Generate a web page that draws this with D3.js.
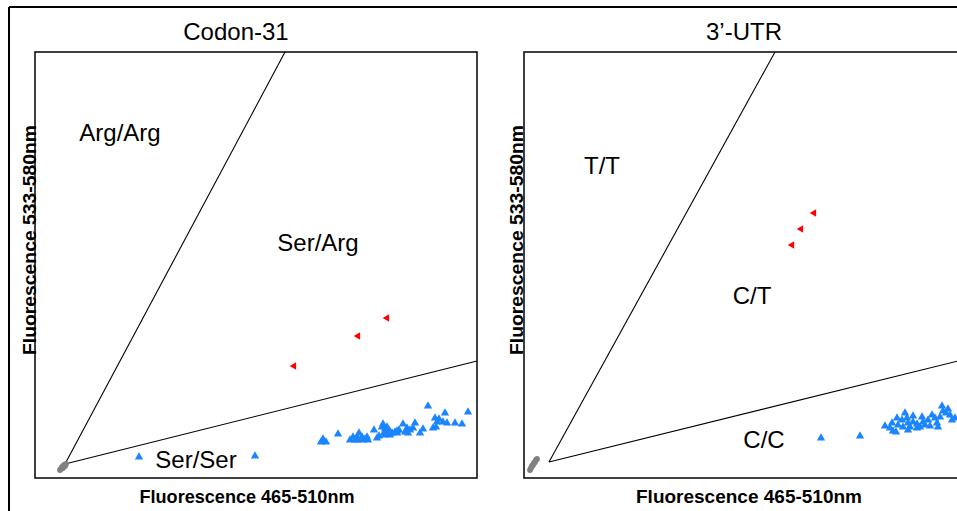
<!DOCTYPE html>
<html><head><meta charset="utf-8">
<script src="https://cdn.jsdelivr.net/npm/d3@7"></script>
<style>body{margin:0;background:#fff}svg{display:block}</style>
</head><body><svg id="c" width="957" height="511"></svg>
<script>
// Panel titles and axis titles
const panelTitles = ["Codon-31", "3\u2019-UTR"];
const xTitle = "Fluorescence 465-510nm";
const yTitle = "Fluorescence 533-580nm";
// Genotype region labels [label, x, y] per panel
const labelsCodon = [["Arg/Arg", 85, 345], ["Ser/Arg", 283, 235], ["Ser/Ser", 161, 18]];
const labelsUTR = [["T/T", 78, 312], ["C/T", 228, 182], ["C/C", 240, 38]];
// Cluster boundary lines (origin -> end) per panel
const linesCodon = [[[30, 14], [250, 426]], [[30, 14], [442, 117]]];
const linesUTR = [[[25, 16], [251, 426]], [[25, 16], [442, 119]]];
// Negative controls (gray)
const grayCodon = [[27,11],[29,13],[31,14],[26,9],[28,10],[30,12],[25,8]];
const grayUTR = [[7,10],[9,13],[11,16],[13,19],[8,12],[10,15],[12,18],[6,8]];
// Heterozygotes (red)
const redCodon = [[259,112],[323,142],[352,160]];
const redUTR = [[268,233],[277,249],[290,265]];
// Homozygotes (blue)
const blueCodon = [[104,21],[220,22],[393,72],[433,66],[410,65],[400,60],[404,59],[408,56],[402,56],[412,55],[420,55],[427,54],
 [398,50],[401,51],[388,49],[380,55],[378,50],[368,54],[372,50],[375,48],[364,48],[362,47],[373,45],[362,45],[348,54],[347,51],
 [350,49],[352,51],[354,48],[349,45],[355,43],[352,44],[357,45],[339,48],[344,42],[342,40],[332,41],[333,38],[330,39],[327,41],
 [324,45],[322,41],[320,38],[318,41],[315,38],[323,38],[328,38],[303,44],[288,39],[291,36],[286,36],[385,45],[370,46],[360,46],[350,43]];
const blueUTR = [[297,40],[336,42],[361,52],[366,50],[369,47],[372,46],[368,55],[374,53],[373,60],[378,58],[381,65],[383,60],[384,55],
 [386,51],[389,62],[389,56],[393,54],[396,51],[398,61],[399,56],[401,53],[404,58],[406,52],[408,63],[411,60],[413,55],[414,51],
 [416,61],[418,72],[419,67],[422,65],[424,69],[426,63],[428,58],[431,60],[379,51],[393,50],[384,48]];

const svg = d3.select("#c");
// outer frame
svg.append("line").attr("x1",9).attr("y1",7).attr("x2",957).attr("y2",7).attr("stroke","#000").attr("stroke-width",2);
svg.append("line").attr("x1",9).attr("y1",7).attr("x2",9).attr("y2",511).attr("stroke","#000").attr("stroke-width",2);

const panels = [
  {x0:35, title:panelTitles[0], labels:labelsCodon, lines:linesCodon, gray:grayCodon, red:redCodon, blue:blueCodon, ytx:29, xtLen:215, ytLen:230},
  {x0:524, title:panelTitles[1], labels:labelsUTR, lines:linesUTR, gray:grayUTR, red:redUTR, blue:blueUTR, ytx:516, xtLen:226, ytLen:230}
];

panels.forEach(p => {
  const x = d3.scaleLinear().domain([0,442]).range([p.x0, p.x0+442]);
  const y = d3.scaleLinear().domain([0,426]).range([478, 52]);
  const g = svg.append("g");
  g.append("rect").attr("x",x(0)).attr("y",y(426)).attr("width",x(442)-x(0)).attr("height",y(0)-y(426))
    .attr("fill","none").attr("stroke","#111").attr("stroke-width",1.6);
  // title
  g.append("text").attr("x",(x(0)+x(442))/2 - (p.x0===35?20:1)).attr("y",40).attr("text-anchor","middle")
    .attr("font-family","Liberation Sans, Arial, sans-serif").attr("font-size",24).text(p.title);
  // x title
  g.append("text").attr("x",(p.x0===35?247:749)).attr("y",503).attr("text-anchor","middle")
    .attr("font-family","Liberation Sans Narrow, Liberation Sans, Arial, sans-serif").attr("font-weight","bold")
    .attr("font-size",19).attr("textLength",p.xtLen).attr("lengthAdjust","spacingAndGlyphs").text(xTitle);
  // y title
  g.append("text").attr("transform",`translate(${p.ytx+7},240) rotate(-90)`).attr("text-anchor","middle")
    .attr("font-family","Liberation Sans Narrow, Liberation Sans, Arial, sans-serif").attr("font-weight","bold")
    .attr("font-size",19).attr("textLength",p.ytLen).attr("lengthAdjust","spacingAndGlyphs").text(yTitle);
  // boundary lines
  g.selectAll("line.b").data(p.lines).join("line").attr("class","b")
    .attr("x1",d=>x(d[0][0])).attr("y1",d=>y(d[0][1])).attr("x2",d=>x(d[1][0])).attr("y2",d=>y(d[1][1]))
    .attr("stroke","#000").attr("stroke-width",1.1);
  // labels
  g.selectAll("text.l").data(p.labels).join("text").attr("class","l")
    .attr("x",d=>x(d[1])).attr("y",d=>y(d[2])+8).attr("text-anchor","middle")
    .attr("font-family","Liberation Sans, Arial, sans-serif").attr("font-size",24).text(d=>d[0]);
  // gray
  g.selectAll("circle.g").data(p.gray).join("circle").attr("class","g")
    .attr("cx",d=>x(d[0])).attr("cy",d=>y(d[1])).attr("r",2.9).attr("fill","#808080");
  // blue
  const tri = d3.symbol().type(d3.symbolTriangle).size(30);
  g.selectAll("path.bl").data(p.blue).join("path").attr("class","bl")
    .attr("d",tri).attr("transform",d=>`translate(${x(d[0])},${y(d[1])})`).attr("fill","#1a85ff");
  // red
  const tri2 = d3.symbol().type(d3.symbolTriangle).size(24);
  g.selectAll("path.r").data(p.red).join("path").attr("class","r")
    .attr("d",tri2).attr("transform",d=>`translate(${x(d[0])},${y(d[1])}) rotate(-90)`).attr("fill","#ff0000");
});
</script></body></html>
